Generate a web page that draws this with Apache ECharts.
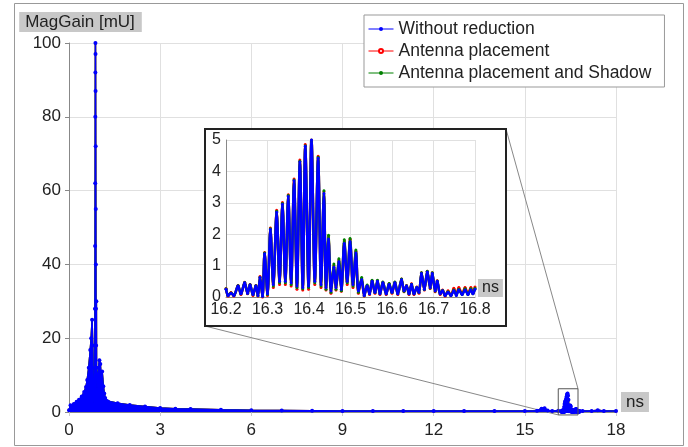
<!DOCTYPE html>
<html>
<head>
<meta charset="utf-8">
<script src="https://cdn.jsdelivr.net/npm/echarts@6/dist/echarts.min.js"></script>
<style>
html, body { margin: 0; padding: 0; background: #fff; }
#chart { width: 688px; height: 447px; }
</style>
</head>
<body>
<div id="chart"></div>
<script>
var myChart = echarts.init(document.getElementById('chart'));
var font = 'Liberation Sans, Arial, sans-serif';

var seriesNames = ['Without reduction', 'Antenna placement', 'Antenna placement and Shadow'];
var seriesColors = ['#0000ff', '#ff0000', '#008000'];

// main trace before the zoomed window (ns, mU)
var mainLead = [
    [0, 0.5], [0.05, 1.8], [0.16, 2.2], [0.25, 2.8], [0.33, 3.3], [0.42, 4.2], [0.5, 5.4],
    [0.56, 6.8], [0.6, 8.7], [0.65, 12], [0.7, 16.8], [0.73, 20], [0.76, 25], [0.78, 18],
    [0.8, 8], [0.82, 2], [0.84, 1], [0.85, 12], [0.855, 28], [0.86, 45], [0.863, 62],
    [0.866, 80], [0.868, 92], [0.87, 100], [0.872, 97], [0.874, 87], [0.877, 72], [0.88, 55],
    [0.883, 40], [0.886, 28], [0.89, 18], [0.9, 30], [0.905, 12], [0.92, 6], [0.95, 10],
    [0.98, 12], [1.0, 14], [1.03, 13], [1.06, 9], [1.09, 11], [1.13, 7], [1.16, 5], [1.19, 3.8],
    [1.25, 3], [1.3, 2.7], [1.6, 2.4], [2, 1.9], [2.5, 1.5], [3, 1.1], [3.5, 0.9], [4, 0.8],
    [5, 0.6], [6, 0.45], [7, 0.4], [8, 0.35], [9, 0.3], [10, 0.3], [11, 0.25], [12, 0.25],
    [13, 0.25], [14, 0.25], [15, 0.3], [15.4, 0.35], [15.55, 0.9], [15.65, 1.0], [15.75, 0.4],
    [15.9, 0.3], [16.1, 0.35]
];
// main trace after the zoomed window
var mainTail = [[16.9, 0.25], [17.2, 0.3], [17.4, 0.45], [17.6, 0.3], [18, 0.3]];

// zoomed window 16.2 - 16.8 ns
var insetX = [
    16.200, 16.205, 16.212, 16.219, 16.229, 16.236, 16.245, 16.252, 16.258, 16.265,
    16.272, 16.277, 16.282, 16.288, 16.293, 16.300, 16.307, 16.314, 16.322, 16.329,
    16.336, 16.343, 16.350, 16.357, 16.364, 16.371, 16.378, 16.385, 16.391, 16.399,
    16.406, 16.414, 16.422, 16.429, 16.436, 16.441, 16.447, 16.453, 16.460, 16.465,
    16.472, 16.478, 16.485, 16.492, 16.499, 16.506, 16.513, 16.519, 16.527, 16.533,
    16.540, 16.546, 16.552, 16.559, 16.565, 16.571, 16.578, 16.586, 16.593, 16.600,
    16.607, 16.614, 16.623, 16.629, 16.635, 16.641, 16.647, 16.653, 16.660, 16.665,
    16.671, 16.678, 16.685, 16.692, 16.697, 16.704, 16.709, 16.716, 16.722, 16.728,
    16.735, 16.742, 16.749, 16.755, 16.761, 16.769, 16.776, 16.783, 16.790, 16.795, 16.800
];
var insetBlue = [
    0.25, 0.05, 0.12, 0.05, 0.35, 0.10, 0.45, 0.12, 0.38, 0.08,
    0.35, 0.05, 0.62, 0.02, 1.38, 0.10, 2.15, 0.40, 2.70, 0.50,
    2.95, 0.50, 3.20, 0.45, 3.70, 0.35, 4.30, 0.30, 4.80, 0.35,
    5.00, 0.50, 4.42, 0.40, 3.30, 0.30, 1.85, 0.20, 0.95, 0.30,
    1.12, 0.25, 1.70, 0.50, 1.76, 0.40, 1.40, 0.20, 0.55, 0.05,
    0.35, 0.10, 0.50, 0.15, 0.50, 0.10, 0.45, 0.10, 0.40, 0.15,
    0.45, 0.10, 0.55, 0.20, 0.35, 0.10, 0.40, 0.10, 0.30, 0.15,
    0.75, 0.25, 0.80, 0.30, 0.75, 0.20, 0.50, 0.10, 0.20, 0.05,
    0.15, 0.05, 0.20, 0.05, 0.22, 0.08, 0.22, 0.08, 0.22, 0.10, 0.25
];
var insetRed = [
    0.27, 0.03, 0.14, 0.03, 0.37, 0.08, 0.47, 0.10, 0.40, 0.05,
    0.37, 0.03, 0.65, 0.00, 1.42, 0.05, 2.20, 0.30, 2.76, 0.40,
    3.01, 0.40, 3.26, 0.35, 3.76, 0.25, 4.36, 0.22, 4.86, 0.25,
    5.05, 0.40, 4.48, 0.30, 3.35, 0.22, 1.92, 0.12, 1.00, 0.22,
    1.18, 0.18, 1.78, 0.40, 1.84, 0.30, 1.46, 0.12, 0.58, 0.03,
    0.37, 0.08, 0.52, 0.12, 0.52, 0.08, 0.47, 0.08, 0.42, 0.12,
    0.47, 0.08, 0.57, 0.17, 0.37, 0.08, 0.42, 0.08, 0.32, 0.12,
    0.77, 0.22, 0.82, 0.27, 0.77, 0.17, 0.52, 0.08, 0.22, 0.03,
    0.20, 0.05, 0.28, 0.08, 0.30, 0.10, 0.30, 0.10, 0.30, 0.12, 0.32
];
var insetGreen = [
    0.26, 0.05, 0.13, 0.05, 0.36, 0.10, 0.46, 0.12, 0.39, 0.07,
    0.36, 0.04, 0.63, 0.02, 1.40, 0.08, 2.17, 0.35, 2.73, 0.45,
    2.98, 0.45, 3.23, 0.40, 3.73, 0.30, 4.32, 0.26, 4.82, 0.30,
    5.02, 0.45, 4.45, 0.35, 3.38, 0.25, 1.97, 0.15, 1.05, 0.25,
    1.22, 0.20, 1.82, 0.45, 1.86, 0.35, 1.50, 0.15, 0.62, 0.04,
    0.38, 0.10, 0.53, 0.14, 0.53, 0.10, 0.48, 0.10, 0.43, 0.14,
    0.48, 0.10, 0.57, 0.18, 0.36, 0.10, 0.41, 0.10, 0.31, 0.14,
    0.77, 0.24, 0.82, 0.29, 0.77, 0.19, 0.51, 0.10, 0.21, 0.05,
    0.17, 0.05, 0.22, 0.06, 0.25, 0.08, 0.26, 0.08, 0.26, 0.10, 0.28
];

function zip(xs, ys) {
    return xs.map(function (x, i) { return [x, ys[i]]; });
}
function fullTrace(insetValues) {
    return mainLead.concat(zip(insetX, insetValues)).concat(mainTail);
}

var insetValues = [insetBlue, insetRed, insetGreen];
var mainSymbols = ['circle', 'emptyCircle', 'circle'];
var drawOrder = [1, 2, 0]; // red, green below blue
var layerZ = { 1: 1, 2: 1.5, 0: 2 };

var series = [];
drawOrder.forEach(function (k) {
    var s = {
        name: seriesNames[k],
        type: 'line',
        xAxisIndex: 0,
        yAxisIndex: 0,
        data: fullTrace(insetValues[k]),
        symbol: mainSymbols[k],
        symbolSize: k === 0 ? 4 : 1,
        color: seriesColors[k],
        lineStyle: { width: 1.5, color: seriesColors[k] },
        z: layerZ[k]
    };
    if (k === 0) s.areaStyle = { color: seriesColors[k], opacity: 1 };
    series.push(s);
});
drawOrder.forEach(function (k) {
    series.push({
        name: seriesNames[k],
        type: 'line',
        xAxisIndex: 1,
        yAxisIndex: 1,
        data: zip(insetX, insetValues[k]),
        symbol: 'circle',
        symbolSize: 3,
        smooth: 0.3,
        color: seriesColors[k],
        lineStyle: { width: 2.5, color: seriesColors[k] },
        z: 4 + layerZ[k]
    });
});

var nameBox = { backgroundColor: '#c8c8c8', color: '#222', fontFamily: font };

option = {
    animation: false,
    backgroundColor: '#fff',
    textStyle: { fontFamily: font },
    legend: {
        data: seriesNames,
        orient: 'vertical',
        left: 364,
        top: 15,
        padding: [5, 13, 5, 4],
        itemGap: 4,
        itemWidth: 25,
        itemHeight: 5,
        backgroundColor: '#fff',
        borderColor: '#999',
        borderWidth: 1,
        lineStyle: { width: 1 },
        textStyle: { fontSize: 17.5, color: '#222', lineHeight: 18, fontFamily: font }
    },
    grid: [
        { left: 69, right: 72, top: 43, bottom: 35 },
        { left: 226, right: 213, top: 140, bottom: 150 }
    ],
    xAxis: [
        {
            type: 'value', gridIndex: 0, min: 0, max: 18, interval: 3,
            name: 'ns', nameLocation: 'end', nameGap: 5,
            nameTextStyle: Object.assign({ fontSize: 17, padding: [1, 5, 1, 5], lineHeight: 18, verticalAlign: 'bottom' }, nameBox),
            axisLine: { show: true, lineStyle: { color: '#888' } },
            axisTick: { show: true, length: 4, lineStyle: { color: '#ccc' } },
            axisLabel: { fontSize: 17, color: '#222', margin: 10 },
            splitLine: { show: true, lineStyle: { color: '#e0e0e0' } }
        },
        {
            type: 'value', gridIndex: 1, min: 16.2, max: 16.8, interval: 0.1, z: 3,
            name: 'ns', nameLocation: 'end', nameGap: 3,
            nameTextStyle: Object.assign({ fontSize: 16, padding: [1, 4, 1, 4], lineHeight: 16, verticalAlign: 'bottom' }, nameBox),
            axisLine: { show: true, lineStyle: { color: '#888' } },
            axisTick: { show: false },
            axisLabel: { fontSize: 16, color: '#222', margin: 5, formatter: function (v) { return v.toFixed(1); } },
            splitLine: { show: true, lineStyle: { color: '#e0e0e0' } }
        }
    ],
    yAxis: [
        {
            type: 'value', gridIndex: 0, min: 0, max: 100, interval: 20,
            name: '{b|MagGain [mU]}', nameLocation: 'end', nameGap: 11,
            nameTextStyle: {
                padding: [0, 0, 0, 23],
                rich: { b: Object.assign({ fontSize: 17, padding: [2, 7, 1, 6] }, nameBox) }
            },
            axisLine: { show: true, lineStyle: { color: '#888' } },
            axisTick: { show: true, length: 4, lineStyle: { color: '#888' } },
            axisLabel: { fontSize: 17, color: '#222', margin: 8 },
            splitLine: { show: true, lineStyle: { color: '#e0e0e0' } }
        },
        {
            type: 'value', gridIndex: 1, min: 0, max: 5, interval: 1, z: 3,
            axisLine: { show: true, lineStyle: { color: '#888' } },
            axisTick: { show: false },
            axisLabel: { fontSize: 16, color: '#222', margin: 5 },
            splitLine: { show: true, lineStyle: { color: '#e0e0e0' } }
        }
    ],
    series: series
};
myChart.setOption(option);

// inset frame, zoom marker and connector lines
var p0 = myChart.convertToPixel({ gridIndex: 1 }, [16.2, 0]);
var p1 = myChart.convertToPixel({ gridIndex: 1 }, [16.8, 5]);
var bx = p0[0] - 21, by = p1[1] - 11;
var bw = p1[0] - p0[0] + 52, bh = p0[1] - p1[1] + 40;
var q0 = myChart.convertToPixel({ gridIndex: 0 }, [16.1, 6.3]);
var q1 = myChart.convertToPixel({ gridIndex: 0 }, [16.75, -0.8]);

myChart.setOption({
    graphic: [
        { type: 'rect', z: 0, shape: { x: 14.5, y: 3.5, width: 669, height: 442 },
          style: { fill: 'none', stroke: '#999', lineWidth: 1 } },
        { type: 'line', z: 1, shape: { x1: bx, y1: by + bh, x2: q0[0], y2: q1[1] },
          style: { stroke: '#888', lineWidth: 1 } },
        { type: 'line', z: 1, shape: { x1: bx + bw, y1: by, x2: q1[0], y2: q0[1] },
          style: { stroke: '#888', lineWidth: 1 } },
        { type: 'rect', z: 3, shape: { x: q0[0], y: q0[1], width: q1[0] - q0[0], height: q1[1] - q0[1] },
          style: { fill: 'none', stroke: '#555', lineWidth: 1 } },
        { type: 'rect', z: 1, shape: { x: bx, y: by, width: bw, height: bh },
          style: { fill: '#fff', stroke: 'none' } },
        { type: 'rect', z: 7, shape: { x: bx, y: by, width: bw, height: bh },
          style: { fill: 'none', stroke: '#222', lineWidth: 2 } }
    ]
});
</script>
</body>
</html>
